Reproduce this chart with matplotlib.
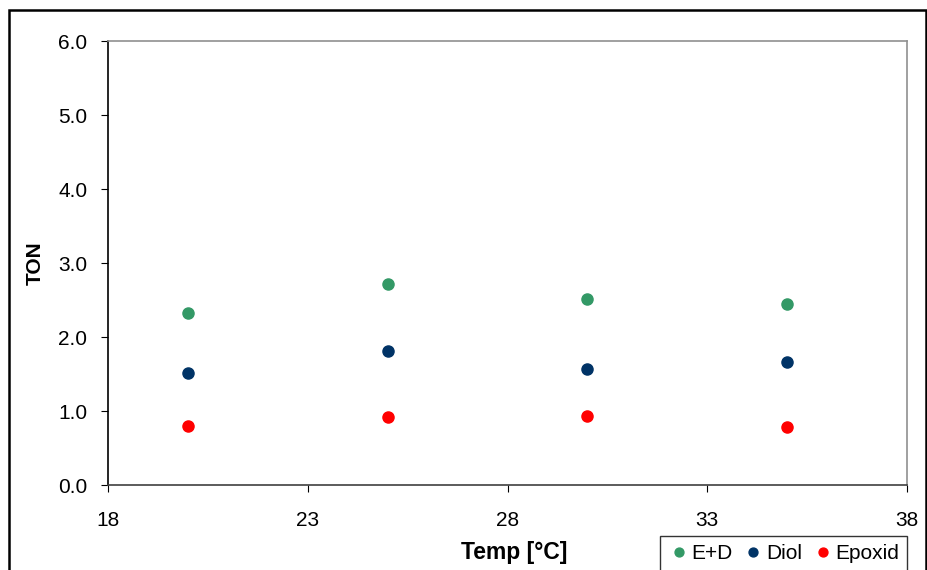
import matplotlib.pyplot as plt
from matplotlib.patches import Rectangle
from matplotlib.ticker import FormatStrFormatter

plt.rcParams['font.family'] = ['Liberation Sans', 'DejaVu Sans']

temp = [20, 25, 30, 35]
ed = [2.32, 2.72, 2.52, 2.44]
diol = [1.51, 1.81, 1.57, 1.66]
epoxid = [0.80, 0.92, 0.93, 0.78]

fig = plt.figure(figsize=(9.28, 5.70), dpi=100)
ax = fig.add_axes([0.1164, 0.149, 0.861, 0.779])

ax.plot(temp, ed, 'o', color='#339966', markersize=8, label='E+D', clip_on=False)
ax.plot(temp, diol, 'o', color='#003366', markersize=8, label='Diol', clip_on=False)
ax.plot(temp, epoxid, 'o', color='#ff0000', markersize=8, label='Epoxid', clip_on=False)

ax.set_xlim(18, 38)
ax.set_ylim(0, 6)
ax.set_xticks([18, 23, 28, 33, 38])
ax.set_yticks([0, 1, 2, 3, 4, 5, 6])
ax.yaxis.set_major_formatter(FormatStrFormatter('%.1f'))
ax.tick_params(direction='out', length=5, labelsize=15, pad=10)
ax.tick_params(axis='x', pad=14)

ax.spines['left'].set_color('black')
ax.spines['bottom'].set_color('#404040')
ax.spines['top'].set_color('#909090')
ax.spines['right'].set_color('#909090')
for s in ax.spines.values():
    s.set_linewidth(1.2)

# label positions in axes fractions (plot area is 799 x 444 px)
ax.set_xlabel('Temp [°C]', fontsize=16.5, fontweight='bold')
ax.xaxis.set_label_coords((514 - 108) / 799, -(552 - 485) / 444)
ax.xaxis.label.set_va('center')
ax.set_ylabel('TON', fontsize=15, fontweight='bold')
ax.yaxis.set_label_coords((35 - 108) / 799, 0.5)
ax.yaxis.label.set_va('center')

leg = fig.legend(loc='upper left', bbox_to_anchor=(660/928, 1 - 536/570), ncol=3,
                 fontsize=15, frameon=True, fancybox=False, handletextpad=0.1,
                 columnspacing=0.5, handlelength=1.0, borderpad=0.4,
                 borderaxespad=0, markerscale=0.8)
leg.get_frame().set_edgecolor('black')
leg.get_frame().set_linewidth(1.0)

# outer chart border, runs off the bottom edge like the original
fig.patches.append(Rectangle((9/928, -0.1), 917/928, 1.1 - 10/570, transform=fig.transFigure,
                             fill=False, edgecolor='black', linewidth=1.8))

fig.savefig('out.png', dpi=100)
